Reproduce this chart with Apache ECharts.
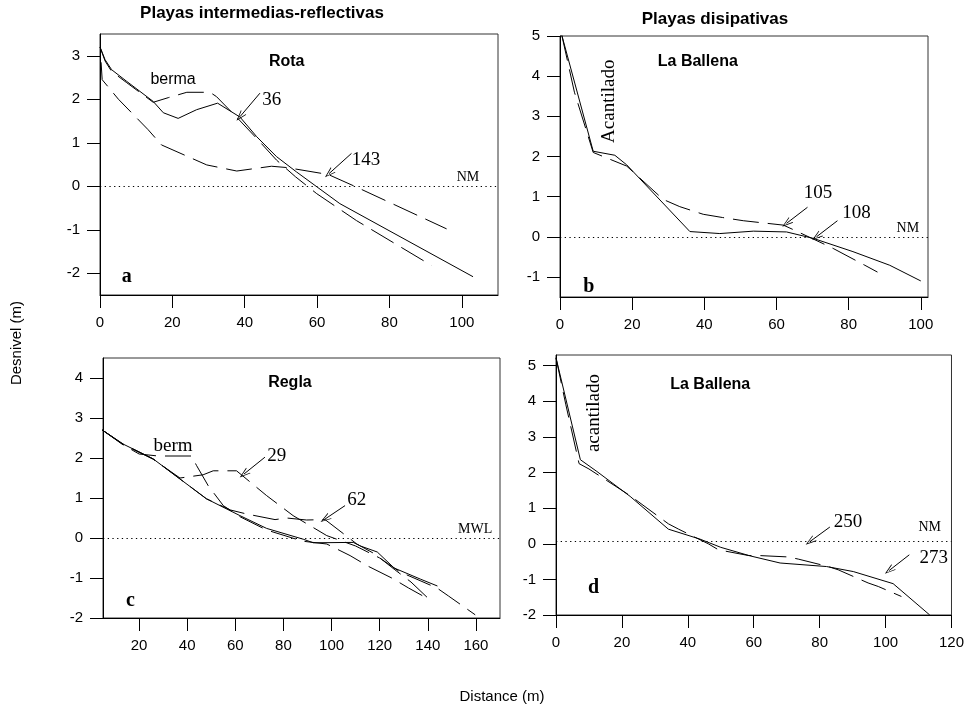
<!DOCTYPE html>
<html><head><meta charset="utf-8">
<script src="https://cdn.jsdelivr.net/npm/echarts@6/dist/echarts.min.js"></script>
<style>html,body{margin:0;padding:0;background:#fff}#c{width:967px;height:713px}</style>
</head><body><div id="c"></div><script>
// ---------- DATA (x = distance m, y = desnivel m) ----------
// Panel a: Rota
const rotaSolid = [[0,3.2],[1.4,2.91],[3.2,2.68],[7.4,2.41],[14.7,1.95],[17.5,1.69],[21.6,1.56],[26.7,1.76],[32.5,1.91],[38.7,1.59],[43.3,1.14],[48.8,0.68],[54.3,0.33],[66.3,-0.4],[103.1,-2.08]];
const rotaBerma = [[0,3.2],[1.4,2.88],[3.2,2.64],[7.4,2.38],[14.7,1.93],[19,2.04],[24,2.16],[30.4,2.16],[32.2,2.06],[38.2,1.55],[43.3,1.1],[48.8,0.6],[54,0.22],[59.9,-0.17],[70.9,-0.79],[91.6,-1.82]];
const rota143 = [[0.3,2.85],[0.6,2.45],[5.1,2.0],[13.3,1.3],[17,0.95],[29.5,0.49],[37.8,0.35],[47.4,0.46],[51.6,0.43],[63.1,0.27],[70.9,-0.02],[95.8,-0.98]];
// Panel b: La Ballena
const ballena105 = [[0.5,5.02],[4,3.6],[9.2,2.1],[18.5,1.76],[28.6,0.93],[33.2,0.75],[39.7,0.56],[45,0.48],[50.8,0.4],[61.9,0.29],[64.6,0.18],[72.9,-0.17],[75.7,-0.29],[84.5,-0.71],[88,-0.88]];
const ballena108 = [[0.5,5.02],[9.2,2.13],[15.2,2.03],[18.5,1.79],[36,0.13],[44.3,0.08],[53.6,0.14],[62.8,0.12],[70.2,-0.04],[81.2,-0.37],[91.4,-0.71],[100,-1.1]];
// Panel c: Regla
const reglaSolid = [[4.7,2.7],[13.3,2.35],[25.8,1.98],[48,0.98],[61.9,0.56],[73,0.24],[88.2,-0.03],[92.4,-0.12],[109,-0.11],[112,-0.2],[119,-0.35],[126,-0.75],[137,-1.03],[144,-1.2]];
const reglaBerm = [[4.7,2.7],[13.3,2.33],[20,2.1],[27.9,2.05],[41.8,2.05],[43.9,1.81],[48.7,1.31],[55,0.81],[62,0.53],[73,0.2],[88,-0.08],[98,-0.15],[107.7,-0.44],[115,-0.7],[125,-1.0],[132,-1.25],[138,-1.45]];
const regla29 = [[4.7,2.7],[13.3,2.34],[25.8,1.97],[37,1.5],[46.6,1.58],[50.8,1.68],[60.5,1.68],[73,1.06],[84,0.56],[98,0.06],[110,-0.2],[120,-0.5],[128.5,-0.85],[143.8,-1.25],[148.6,-1.45],[159.7,-1.92]];
const regla62 = [[4.7,2.7],[13.3,2.35],[25.8,1.98],[48,0.98],[58,0.7],[64.7,0.6],[76.5,0.46],[81.3,0.5],[89.6,0.45],[97.3,0.46],[110.5,-0.15],[118,-0.4],[126,-0.78],[133,-1.1],[140,-1.5]];
// Panel d: La Ballena
const ballenaD250 = [[0,5.22],[3,3.9],[7,2.25],[10,2.1],[22.5,1.35],[34.1,0.56],[37.2,0.41],[46.2,0.0],[49.3,-0.17],[58.4,-0.33],[61.4,-0.33],[70.5,-0.37],[73.5,-0.43],[82.6,-0.64],[85.6,-0.73],[94.7,-1.1],[97.8,-1.2],[104.8,-1.48]];
const ballenaD273 = [[0,5.22],[7.4,2.36],[12.4,2.03],[22.5,1.33],[34.1,0.41],[43.7,0.13],[50,-0.1],[58.9,-0.34],[68,-0.54],[82.1,-0.64],[90.2,-0.78],[102.3,-1.12],[113.4,-2.0]];
// mean water levels
const levelA = 0, levelB = 0, levelC = 0, levelD = 0.08;
// tick labels
const xTicksA = [0,20,40,60,80,100];
const yTicksA = [-2,-1,0,1,2,3];
const xTicksB = [0,20,40,60,80,100];
const yTicksB = [-1,0,1,2,3,4,5];
const xTicksC = [20,40,60,80,100,120,140,160];
const yTicksC = [-2,-1,0,1,2,3,4];
const xTicksD = [0,20,40,60,80,100,120];
const yTicksD = [-2,-1,0,1,2,3,4,5];

// ---------- STYLE / LAYOUT ----------
const SANS = "'Liberation Sans', Arial, sans-serif";
const SERIF = "'Liberation Serif', 'Times New Roman', serif";
const ARROW = 'path://M0,12 L5,0 L10,12 L8.8,12 L5,2.6 L1.2,12 Z';
const DASH = [26, 9];

const grids = [
  {left:100, top:34, width:398, height:261},
  {left:560, top:36, width:368, height:261},
  {left:103, top:358, width:397, height:260},
  {left:556, top:355, width:396, height:260}
];

function mkAxis(gi, min, max, ticks) {
  return {type:'value', gridIndex:gi, min:min, max:max,
    axisLine:{show:true, onZero:false, lineStyle:{color:'#000', width:1}},
    axisTick:{show:true, inside:false, length:13, customValues:ticks, lineStyle:{color:'#000', width:1}},
    axisLabel:{show:true, customValues:ticks, margin:20, color:'#000', fontFamily:SANS, fontSize:15},
    splitLine:{show:false}};
}

function ln(gi, data, dashed) {
  return {type:'line', xAxisIndex:gi, yAxisIndex:gi, data:data, showSymbol:false, symbol:'none',
    silent:true, animation:false, z:3,
    lineStyle:{color:'#000', width:1, type: dashed ? DASH : 'solid', cap:'butt'}};
}

function level(gi, y) {
  return {type:'line', xAxisIndex:gi, yAxisIndex:gi, data:[], silent:true, animation:false,
    markLine:{silent:true, symbol:'none', animation:false, label:{show:false},
      lineStyle:{color:'#000', width:1, type:[1.3,3.4]}, data:[{yAxis:y}]}};
}

function notes(gi, texts, arrows) {
  return {type:'line', xAxisIndex:gi, yAxisIndex:gi, data:[], silent:true, animation:false,
    markPoint:{symbol:'circle', symbolSize:0, silent:true, animation:false,
      data: texts.map(t => ({coord:[t[0], t[1]], value:0,
        label:{show:true, position:'inside', formatter:t[2], color:'#000',
          fontFamily:t[3], fontSize:t[4], fontWeight:t[5] ? 'bold' : 'normal', rotate:t[6] || 0}}))},
    markLine:{silent:true, animation:false, symbol:['none', ARROW], symbolSize:[7,11],
      label:{show:false}, lineStyle:{color:'#000', width:1, type:'solid'},
      data: arrows.map(a => [{coord:a[0]}, {coord:a[1]}])}};
}

const notesA = notes(0, [
  [51.6, 2.87, 'Rota', SANS, 16, true],
  [20.2, 2.45, 'berma', SANS, 16, false],
  [47.5, 1.99, '36', SERIF, 19, false],
  [73.5, 0.6, '143', SERIF, 19, false],
  [101.7, 0.21, 'NM', SERIF, 14, false],
  [7.4, -2.09, 'a', SERIF, 20, true]
], [[[44.2, 2.14], [38.7, 1.6]], [[69.5, 0.755], [63.3, 0.29]]]);

const notesB = notes(1, [
  [38.2, 4.375, 'La Ballena', SANS, 16, true],
  [13.6, 3.375, 'Acantilado', SERIF, 19, false, 90],
  [71.5, 1.09, '105', SERIF, 19, false],
  [82.2, 0.585, '108', SERIF, 19, false],
  [96.4, 0.22, 'NM', SERIF, 14, false],
  [8, -1.25, 'b', SERIF, 20, true]
], [[[68.6, 0.735], [62.8, 0.335]], [[76.9, 0.4], [71.1, 0.0]]]);

const notesC = notes(2, [
  [82.7, 3.89, 'Regla', SANS, 16, true],
  [34.1, 2.29, 'berm', SERIF, 19, false],
  [77.2, 2.06, '29', SERIF, 19, false],
  [110.5, 0.96, '62', SERIF, 19, false],
  [159.7, 0.225, 'MWL', SERIF, 14, false],
  [16.4, -1.57, 'c', SERIF, 20, true]
], [[[72.3, 2.02], [63.6, 1.6]], [[105.6, 0.81], [97.3, 0.475]]]);

const notesD = notes(3, [
  [46.8, 4.47, 'La Ballena', SANS, 16, true],
  [11.6, 3.67, 'acantilado', SERIF, 19, false, 90],
  [88.6, 0.6, '250', SERIF, 19, false],
  [114.6, -0.39, '273', SERIF, 19, false],
  [113.4, 0.45, 'NM', SERIF, 14, false],
  [11.4, -1.24, 'd', SERIF, 20, true]
], [[[83.1, 0.47], [77.1, 0.065]], [[107.2, -0.31], [101.1, -0.75]]]);

const chart = echarts.init(document.getElementById('c'), null, {renderer:'canvas'});
chart.setOption({
  animation:false,
  backgroundColor:'#fff',
  grid: grids.map(g => Object.assign({show:true, borderColor:'#333', borderWidth:1, backgroundColor:'transparent', containLabel:false}, g)),
  xAxis: [mkAxis(0,0,110,xTicksA), mkAxis(1,0,102,xTicksB), mkAxis(2,5,170,xTicksC), mkAxis(3,0,120,xTicksD)],
  yAxis: [mkAxis(0,-2.5,3.5,yTicksA), mkAxis(1,-1.5,5,yTicksB), mkAxis(2,-2,4.5,yTicksC), mkAxis(3,-2,5.3,yTicksD)],
  series: [
    ln(0, rotaSolid, false), ln(0, rotaBerma, true), ln(0, rota143, true),
    ln(1, ballena108, false), ln(1, ballena105, true),
    ln(2, reglaSolid, false), ln(2, reglaBerm, true), ln(2, regla29, true), ln(2, regla62, true),
    ln(3, ballenaD273, false), ln(3, ballenaD250, true),
    level(0, levelA), level(1, levelB), level(2, levelC), level(3, levelD),
    notesA, notesB, notesC, notesD
  ],
  graphic: [
    {type:'text', x:262, y:13, style:{text:'Playas intermedias-reflectivas', font:"bold 17px 'Liberation Sans', Arial, sans-serif", fill:'#000', textAlign:'center', textVerticalAlign:'middle'}},
    {type:'text', x:715, y:19, style:{text:'Playas disipativas', font:"bold 17px 'Liberation Sans', Arial, sans-serif", fill:'#000', textAlign:'center', textVerticalAlign:'middle'}},
    {type:'text', x:17, y:343, rotation:Math.PI/2, style:{text:'Desnivel (m)', font:"15px 'Liberation Sans', Arial, sans-serif", fill:'#000', textAlign:'center', textVerticalAlign:'middle'}},
    {type:'text', x:502, y:697, style:{text:'Distance (m)', font:"15px 'Liberation Sans', Arial, sans-serif", fill:'#000', textAlign:'center', textVerticalAlign:'middle'}}
  ]
});
</script></body></html>
